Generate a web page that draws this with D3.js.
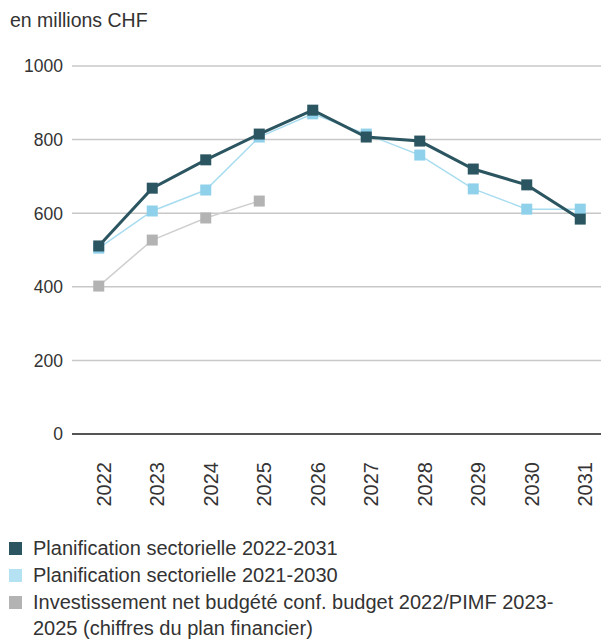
<!DOCTYPE html>
<html>
<head>
<meta charset="utf-8">
<script src="https://cdn.jsdelivr.net/npm/d3@7"></script>
<style>
  body { margin: 0; background: #fff; }
  text { font-family: "Liberation Sans", Arial, sans-serif; fill: #333; }
</style>
</head>
<body>
<svg id="chart" width="603" height="639"></svg>
<script>
var years = ['2022', '2023', '2024', '2025', '2026', '2027', '2028', '2029', '2030', '2031'];
var plan2231 = [511, 668, 745, 815, 880, 807, 796, 720, 677, 584];
var plan2130 = [505, 606, 663, 807, 870, 815, 758, 666, 611, 611];
var budget = [402, 527, 587, 633];
var yTicks = [0, 200, 400, 600, 800, 1000];
var legendLabels = [
    ['Planification sectorielle 2022-2031'],
    ['Planification sectorielle 2021-2030'],
    ['Investissement net budgété conf. budget 2022/PIMF 2023-', '2025 (chiffres du plan financier)']
];

var series = [
    { values: budget, line: '#cfcfcf', mark: '#b3b3b3', width: 1.5 },
    { values: plan2130, line: '#a8dcef', mark: '#8fd0ea', width: 1.5 },
    { values: plan2231, line: '#2b5560', mark: '#2b5560', width: 3 }
];
var legendColors = ['#2b5560', '#b4e2f3', '#b3b3b3'];

var svg = d3.select('#chart');

var x = d3.scalePoint().domain(years).range([72, 607]).padding(0.5);
var y = d3.scaleLinear().domain([0, 1000]).range([434, 66]);

svg.append('text')
    .attr('x', 10).attr('y', 27)
    .style('font-size', '19.5px')
    .text('en millions CHF');

// grid + y labels
var yAxis = svg.append('g');
yAxis.selectAll('line').data(yTicks).enter().append('line')
    .attr('x1', 72).attr('x2', 601)
    .attr('y1', function(d) { return y(d); })
    .attr('y2', function(d) { return y(d); })
    .attr('stroke', function(d) { return d === 0 ? '#555' : '#c8c8c8'; })
    .attr('stroke-width', function(d) { return d === 0 ? 2 : 1.5; });
yAxis.selectAll('text').data(yTicks).enter().append('text')
    .attr('x', 63)
    .attr('y', function(d) { return y(d); })
    .attr('dy', '0.36em')
    .attr('text-anchor', 'end')
    .style('font-size', '17.5px')
    .text(function(d) { return d; });

// x labels rotated
svg.append('g').selectAll('text').data(years).enter().append('text')
    .attr('transform', function(d) { return 'translate(' + (x(d) + 12) + ',462) rotate(-90)'; })
    .attr('text-anchor', 'end')
    .style('font-size', '20px')
    .text(function(d) { return d; });

var line = d3.line()
    .x(function(d, i) { return x(years[i]); })
    .y(function(d) { return y(d); });

series.forEach(function(s) {
    var g = svg.append('g');
    g.append('path')
        .datum(s.values)
        .attr('d', line)
        .attr('fill', 'none')
        .attr('stroke', s.line)
        .attr('stroke-width', s.width);
    g.selectAll('rect').data(s.values).enter().append('rect')
        .attr('x', function(d, i) { return x(years[i]) - 5.5; })
        .attr('y', function(d) { return y(d) - 5.5; })
        .attr('width', 11).attr('height', 11)
        .attr('fill', s.mark);
});

// legend
var ly = [555, 582, 609];
var leg = svg.append('g');
legendLabels.forEach(function(lines, i) {
    leg.append('rect')
        .attr('x', 9).attr('y', ly[i] - 13)
        .attr('width', 13).attr('height', 13)
        .attr('fill', legendColors[i]);
    lines.forEach(function(t, j) {
        leg.append('text')
            .attr('x', 33).attr('y', ly[i] + j * 26)
            .style('font-size', '20px')
            .text(t);
    });
});
</script>
</body>
</html>
